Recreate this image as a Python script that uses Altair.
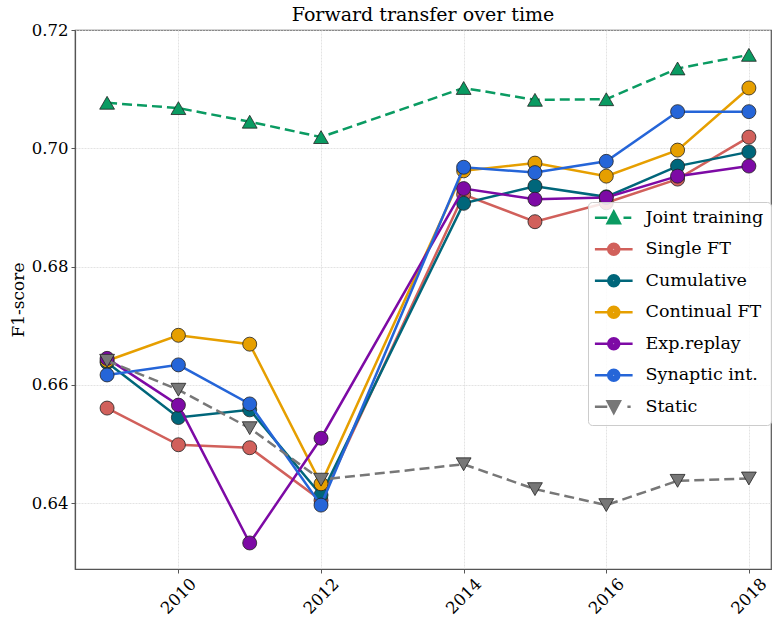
import altair as alt
import pandas as pd

# ---------------- data ----------------
years = [2009, 2010, 2011, 2012, 2014, 2015, 2016, 2017, 2018]
series_names = ["Joint training", "Single FT", "Cumulative", "Continual FT",
                "Exp.replay", "Synaptic int.", "Static"]

joint_training = [0.7077, 0.7068, 0.7045, 0.7019, 0.7102, 0.7082, 0.7083, 0.7135, 0.7158]
single_ft      = [0.6561, 0.6499, 0.6494, 0.6405, 0.6922, 0.6876, 0.6908, 0.6948, 0.7019]
cumulative     = [0.6638, 0.6545, 0.6558, 0.6414, 0.6907, 0.6936, 0.6918, 0.6970, 0.6994]
continual_ft   = [0.6641, 0.6684, 0.6669, 0.6433, 0.6962, 0.6975, 0.6953, 0.6997, 0.7102]
exp_replay     = [0.6645, 0.6566, 0.6333, 0.6510, 0.6932, 0.6914, 0.6917, 0.6953, 0.6970]
synaptic_int   = [0.6617, 0.6634, 0.6568, 0.6397, 0.6968, 0.6959, 0.6978, 0.7062, 0.7062]
static         = [0.6641, 0.6592, 0.6527, 0.6440, 0.6466, 0.6424, 0.6397, 0.6438, 0.6442]

series_values = [joint_training, single_ft, cumulative, continual_ft,
                 exp_replay, synaptic_int, static]

x_ticks = [2010, 2012, 2014, 2016, 2018]
y_ticks = [0.64, 0.66, 0.68, 0.70, 0.72]

# ---------------- styles ----------------
colors = ["#0a9b62", "#d1605b", "#00667a", "#e69f00", "#7d0aa5", "#2565d8", "#777777"]
markers = ["triangle-up", "circle", "circle", "circle", "circle", "circle", "triangle-down"]
dashed = [True, False, False, False, False, False, True]


def ring(r):
    return f"M {r} 0 A {r} {r} 0 1 1 {-r} 0 A {r} {r} 0 1 1 {r} 0 Z "


def tri(s, up=True):
    k = 1 if up else -1
    return (f"M 0 {-1.05 * s * k} L {1.05 * s} {0.95 * s * k} "
            f"L {-1.05 * s} {0.95 * s * k} Z ")


p_circle = "M -2.9 0 L -1 0 M 1 0 L 2.9 0 " + "".join(ring(r) for r in (0.85, 0.6, 0.35, 0.12))
p_up = "M -2.9 0 L -1.0 0 M 1.5 0 L 2.7 0 " + "".join(tri(s, True) for s in (0.9, 0.65, 0.4, 0.15))
p_down = "M -2.9 0 L -1.0 0 M 2.1 0 L 2.6 0 " + "".join(tri(s, False) for s in (0.9, 0.65, 0.4, 0.15))
legend_paths = [p_up, p_circle, p_circle, p_circle, p_circle, p_circle, p_down]

rows = []
for name, vals in zip(series_names, series_values):
    for yr, v in zip(years, vals):
        rows.append({"series": name, "year": yr, "f1": v})
df = pd.DataFrame(rows)

FONT = "DejaVu Serif"
xscale = alt.Scale(domain=[2008.55, 2018.31], nice=False, zero=False)
yscale = alt.Scale(domain=[0.6289, 0.72], nice=False, zero=False)
cscale = alt.Scale(domain=series_names, range=colors)

x_axis = alt.Axis(values=x_ticks, format="d", labelAngle=-45, labelAlign="center",
                  labelBaseline="middle", labelPadding=23, labelFontSize=16.5,
                  title=None, grid=True)
y_axis = alt.Axis(values=y_ticks, format=".2f", labelFontSize=16.5, title="F1-score",
                  titleFontSize=17, titlePadding=4, grid=True)

base = alt.Chart(df).encode(
    x=alt.X("year:Q", scale=xscale, axis=x_axis),
    y=alt.Y("f1:Q", scale=yscale, axis=y_axis),
)

layers = []
for i, name in enumerate(series_names):
    sub = base.transform_filter(alt.datum.series == name)
    lkw = dict(strokeWidth=2.5, color=colors[i])
    if dashed[i]:
        lkw["strokeDash"] = [10, 5]
    layers.append(sub.mark_line(**lkw))
    size = 196 if markers[i] == "circle" else 220
    layers.append(sub.mark_point(filled=True, opacity=1, shape=markers[i], size=size,
                                 fill=colors[i], stroke="#222222", strokeWidth=0.8))

leg = alt.Legend(title=None, orient="none", legendX=513, legendY=172,
                 fillColor="rgba(255,255,255,0.85)", strokeColor="#cccccc",
                 cornerRadius=4, padding=7, symbolSize=169, symbolStrokeWidth=2.5,
                 symbolOpacity=1, symbolOffset=10, labelOffset=23, labelFont=FONT,
                 labelFontSize=17.5, labelColor="black", rowPadding=9.5, labelLimit=300)

# invisible layer that only carries the legend (line + marker symbols)
legend_layer = base.mark_point(filled=False, opacity=0, size=169, strokeWidth=2.5).encode(
    color=alt.Color("series:N", scale=cscale, legend=leg),
    shape=alt.Shape("series:N", scale=alt.Scale(domain=series_names, range=legend_paths),
                    legend=leg),
)
layers.append(legend_layer)

chart = alt.layer(*layers).properties(
    width=696, height=539,
    padding={"left": 75, "top": 30, "right": 1, "bottom": 50},
    autosize=alt.AutoSizeParams(type="none"),
    title=alt.TitleParams("Forward transfer over time", font=FONT, fontSize=19,
                          fontWeight="normal", color="black", offset=-3, anchor="middle"),
).configure_view(stroke="#555555", strokeWidth=1.2).configure_axis(
    labelFont=FONT, titleFont=FONT, labelColor="black", titleColor="black",
    titleFontWeight="normal", domainColor="#555555", domainWidth=1.2,
    tickColor="#555555", tickSize=4, gridColor="#dcdcdc", gridWidth=0.8,
    gridDash=[2, 1], labelPadding=3
).configure_legend(
    labelFont=FONT, labelFontSize=17.5, labelColor="black"
)

chart.save("out.html", embed_options={"renderer": "svg", "actions": False})
